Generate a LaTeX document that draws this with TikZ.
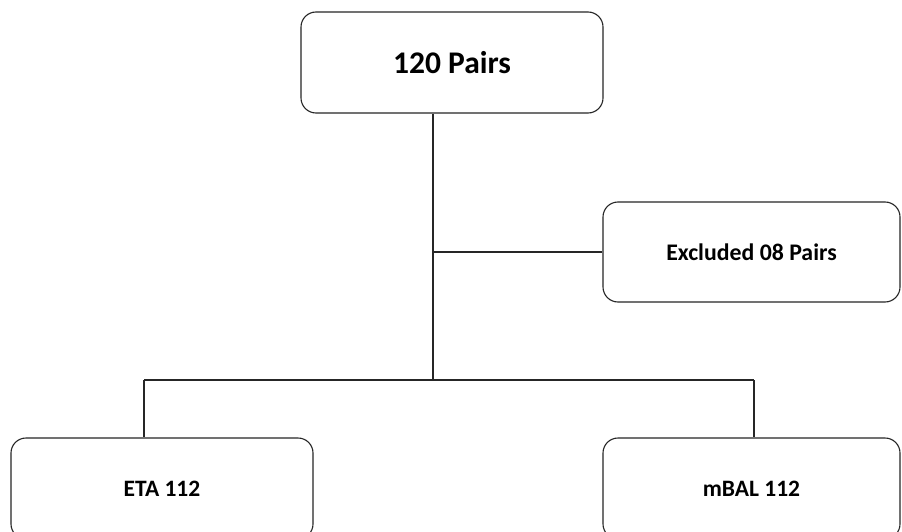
\documentclass[tikz,border=0pt]{standalone}
\usepackage{fontspec}
\setmainfont{Carlito}
\begin{document}
\begin{tikzpicture}[x=1pt,y=-1pt,
  box/.style={draw=black!85, line width=1.1pt, rounded corners=15pt, fill=white,
    minimum width=302pt, minimum height=101pt, inner sep=0pt, font=\bfseries, text=black},
  conn/.style={draw=black!85, line width=1.1pt}]
\clip (0,0) rectangle (902,532);
\fill[white] (0,0) rectangle (902,532);
\node[box, font=\bfseries\fontsize{31.5}{36}\selectfont] (top) at (452,62.5) {120 Pairs};
\node[box, minimum width=297pt, minimum height=100pt, font=\bfseries\fontsize{23.8}{28}\selectfont] (excl) at (751.5,252) {Excluded 08 Pairs};
\node[box, font=\bfseries\fontsize{23.5}{28}\selectfont] (eta) at (162,488.5) {ETA 112};
\node[box, minimum width=297pt, font=\bfseries\fontsize{23.5}{28}\selectfont] (mbal) at (751.5,488.5) {mBAL 112};
\coordinate (j1) at (433,252);
\coordinate (j2) at (433,380);
\coordinate (bl) at (144,380);
\coordinate (br) at (754,380);
\draw[conn] (top.south -| j1) -- (j2);
\draw[conn] (j1) -- (excl.west);
\draw[conn] (bl) -- (br);
\draw[conn] (bl) -- (bl |- eta.north);
\draw[conn] (br) -- (br |- mbal.north);
\end{tikzpicture}
\end{document}
